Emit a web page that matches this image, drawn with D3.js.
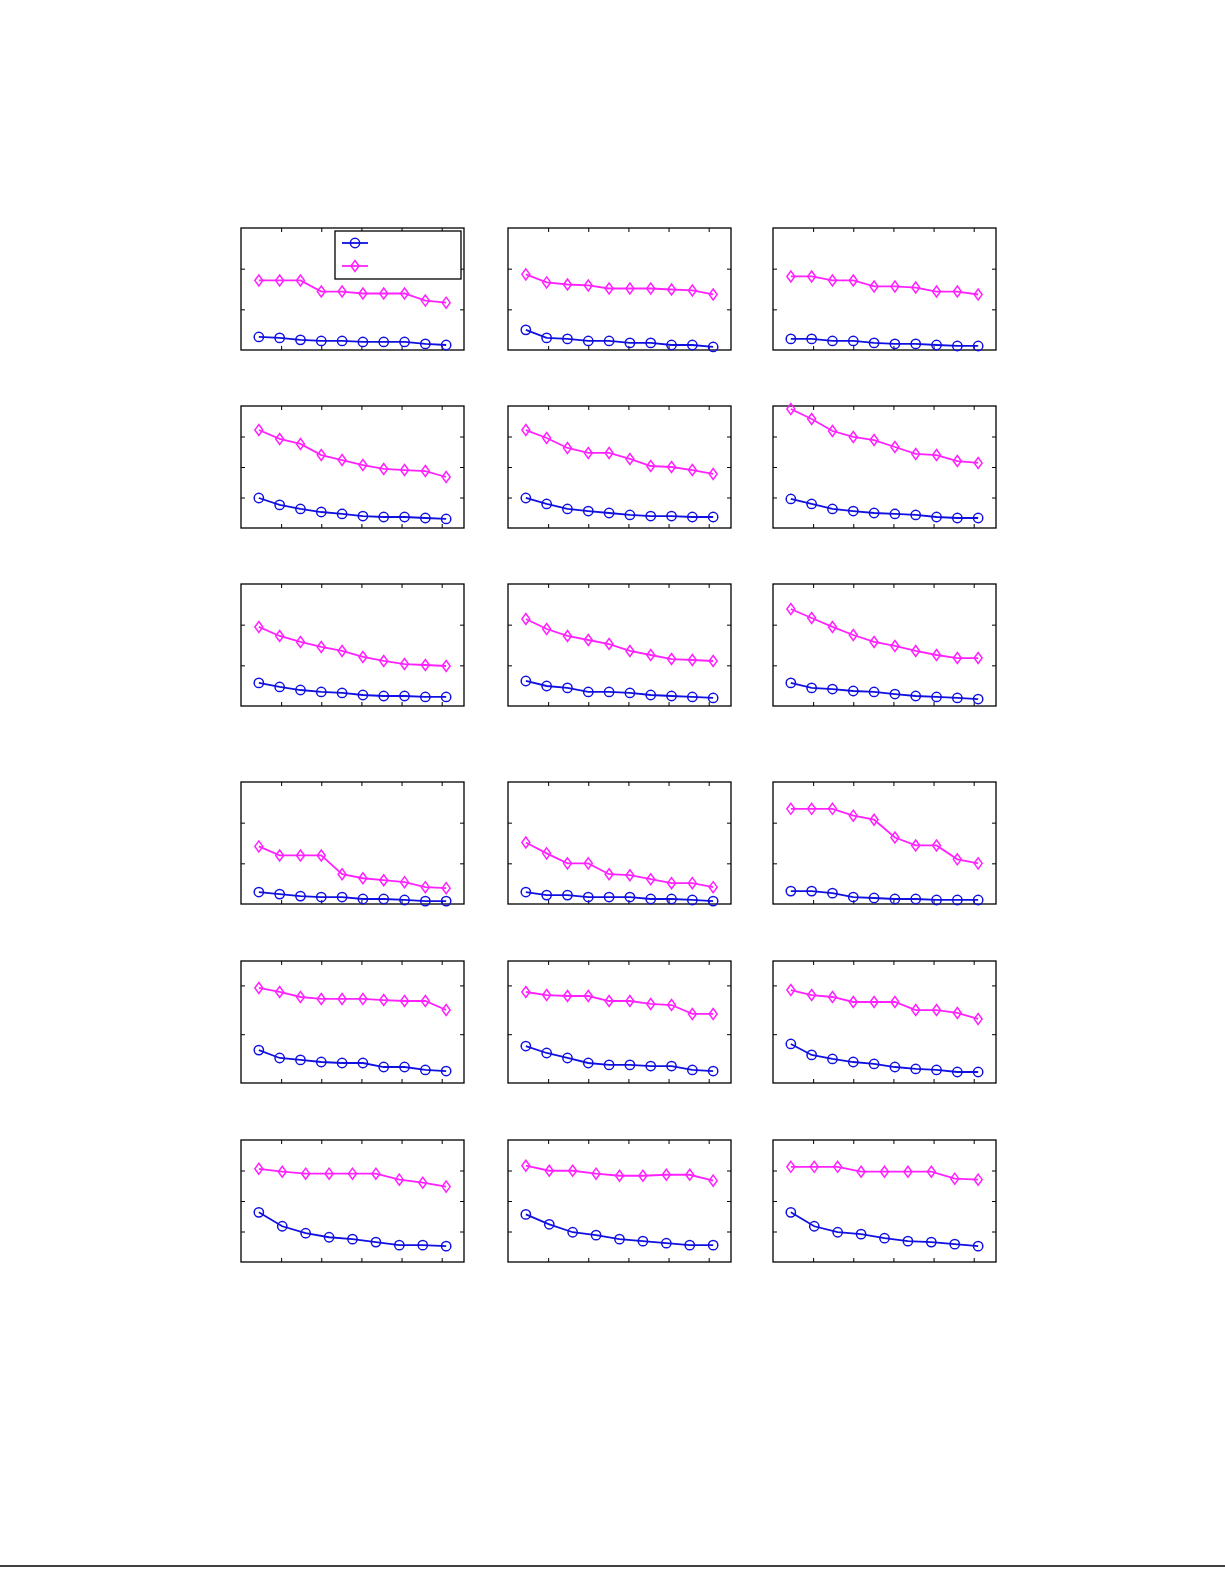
<!DOCTYPE html>
<html><head><meta charset="utf-8">
<script src="https://cdn.jsdelivr.net/npm/d3@7"></script>
<style>body{margin:0;background:#fff}</style></head>
<body><svg id="c" width="1225" height="1585"></svg>
<script>
// values on a 0–10 scale per panel, rows top to bottom, columns left to right
const pinkSeries = [
 [5.70,5.70,5.70,4.79,4.79,4.63,4.63,4.63,4.05,3.88],
 [6.20,5.54,5.37,5.29,5.04,5.04,5.04,4.96,4.88,4.55],
 [6.03,6.03,5.70,5.70,5.21,5.21,5.12,4.79,4.79,4.55],
 [8.03,7.30,6.89,5.98,5.57,5.16,4.84,4.75,4.67,4.18],
 [8.03,7.38,6.56,6.15,6.15,5.66,5.08,5.00,4.75,4.43],
 [9.75,8.93,7.95,7.46,7.21,6.64,6.07,5.98,5.49,5.33],
 [6.48,5.74,5.25,4.84,4.51,4.02,3.69,3.44,3.36,3.28],
 [7.13,6.31,5.74,5.41,5.08,4.51,4.18,3.85,3.77,3.69],
 [7.95,7.21,6.48,5.82,5.25,4.92,4.51,4.18,3.93,3.93],
 [4.72,3.98,3.98,3.98,2.44,2.11,1.95,1.79,1.38,1.30],
 [5.04,4.15,3.33,3.33,2.44,2.36,2.03,1.71,1.71,1.38],
 [7.80,7.80,7.80,7.24,6.91,5.45,4.80,4.80,3.66,3.33],
 [7.79,7.46,7.05,6.89,6.89,6.89,6.80,6.72,6.72,5.98],
 [7.46,7.21,7.13,7.13,6.72,6.72,6.48,6.39,5.66,5.66],
 [7.62,7.21,7.05,6.64,6.64,6.64,5.98,5.98,5.74,5.25],
 [7.64,7.40,7.24,7.24,7.24,7.24,6.75,6.50,6.18],
 [7.89,7.48,7.48,7.24,7.07,7.07,7.15,7.15,6.67],
 [7.80,7.80,7.80,7.40,7.40,7.40,7.40,6.83,6.75]
];
const blueSeries = [
 [1.07,0.99,0.83,0.74,0.74,0.66,0.66,0.66,0.50,0.41],
 [1.65,0.99,0.91,0.74,0.74,0.58,0.58,0.41,0.41,0.25],
 [0.91,0.91,0.74,0.74,0.58,0.50,0.50,0.41,0.33,0.33],
 [2.46,1.89,1.56,1.31,1.15,0.98,0.90,0.90,0.82,0.74],
 [2.46,1.97,1.56,1.39,1.23,1.07,0.98,0.98,0.90,0.90],
 [2.38,1.97,1.56,1.39,1.23,1.15,1.07,0.90,0.82,0.82],
 [1.89,1.56,1.31,1.15,1.07,0.90,0.82,0.82,0.74,0.74],
 [2.05,1.64,1.48,1.15,1.15,1.07,0.90,0.82,0.74,0.66],
 [1.89,1.48,1.39,1.23,1.15,0.98,0.82,0.74,0.66,0.57],
 [0.98,0.81,0.65,0.57,0.57,0.41,0.41,0.33,0.24,0.24],
 [0.98,0.73,0.73,0.57,0.57,0.57,0.41,0.41,0.33,0.24],
 [1.06,1.06,0.89,0.57,0.49,0.41,0.41,0.33,0.33,0.33],
 [2.70,2.05,1.89,1.72,1.64,1.64,1.31,1.31,1.07,0.98],
 [3.03,2.46,2.05,1.64,1.48,1.48,1.39,1.39,1.07,0.98],
 [3.20,2.30,1.97,1.72,1.56,1.31,1.15,1.07,0.90,0.90],
 [4.07,2.93,2.36,2.03,1.87,1.63,1.38,1.38,1.30],
 [3.90,3.09,2.44,2.20,1.87,1.71,1.54,1.38,1.38],
 [4.07,2.93,2.44,2.28,1.95,1.71,1.63,1.46,1.30]
];
const yTicksByRow = [[3.333,6.667],[2.5,5,7.5],[3.333,6.667],[3.333,6.667],[4,8],[2.5,5,7.5]];
const xTickFractions = [0.18,0.36,0.54,0.72,0.9];

const colX = [241,508,773], rowY = [228,406,584,782,961,1140];
const W = 223, H = 122;
const BLUE = "#1010e0", PINK = "#ff22ff";
const svg = d3.select("#c");
svg.append("line").attr("x1",0).attr("x2",1225).attr("y1",1566).attr("y2",1566).attr("stroke","#000").attr("stroke-width",1.5);

const diamond = d3.symbol().type({draw(ctx){ctx.moveTo(0,-5.5);ctx.lineTo(4,0);ctx.lineTo(0,5.5);ctx.lineTo(-4,0);ctx.closePath();}})();
const circle = d3.symbol().type(d3.symbolCircle).size(68)();

pinkSeries.forEach((pink,k)=>{
  const r = Math.floor(k/3), c = k%3;
  const g = svg.append("g").attr("transform",`translate(${colX[c]},${rowY[r]})`);
  const n = pink.length;
  const x = d3.scaleLinear().domain([0,n-1]).range([0.08*W,0.92*W]);
  const y = d3.scaleLinear().domain([0,10]).range([H,0]);
  const xf = d3.scaleLinear().domain([0,1]).range([0,W]);
  g.append("g").attr("transform",`translate(0,${H})`).call(d3.axisBottom(xf).tickValues(xTickFractions).tickSize(-4).tickFormat(""));
  g.append("g").call(d3.axisTop(xf).tickValues(xTickFractions).tickSize(-4).tickFormat(""));
  g.append("g").call(d3.axisLeft(y).tickValues(yTicksByRow[r]).tickSize(-4).tickFormat(""));
  g.append("g").attr("transform",`translate(${W},0)`).call(d3.axisRight(y).tickValues(yTicksByRow[r]).tickSize(-4).tickFormat(""));
  g.selectAll(".domain").remove();
  g.selectAll(".tick line").attr("stroke","#000");
  g.append("rect").attr("width",W).attr("height",H).attr("fill","none").attr("stroke","#000").attr("stroke-width",1.3);
  const line = d3.line().x((d,i)=>x(i)).y(d=>y(d));
  [[blueSeries[k],BLUE,"c"],[pink,PINK,"d"]].forEach(([vals,col,m])=>{
    g.append("path").attr("d",line(vals)).attr("fill","none").attr("stroke",col).attr("stroke-width",1.8);
    g.selectAll(null).data(vals).enter().append("path")
      .attr("transform",(d,i)=>`translate(${x(i)},${y(d)})`)
      .attr("d", m==="c" ? circle : diamond)
      .attr("fill","none").attr("stroke",col).attr("stroke-width",1.5);
  });
  if(k===0){
    const lg = g.append("g").attr("transform","translate(94,3)");
    lg.append("rect").attr("width",126).attr("height",48).attr("fill","#fff").attr("stroke","#000").attr("stroke-width",1.3);
    [[BLUE,"c",12],[PINK,"d",35]].forEach(([col,m,yy])=>{
      lg.append("line").attr("x1",7).attr("x2",33).attr("y1",yy).attr("y2",yy).attr("stroke",col).attr("stroke-width",1.8);
      lg.append("path").attr("transform",`translate(20,${yy})`)
        .attr("d", m==="c" ? circle : diamond)
        .attr("fill","none").attr("stroke",col).attr("stroke-width",1.5);
    });
  }
});
</script></body></html>
